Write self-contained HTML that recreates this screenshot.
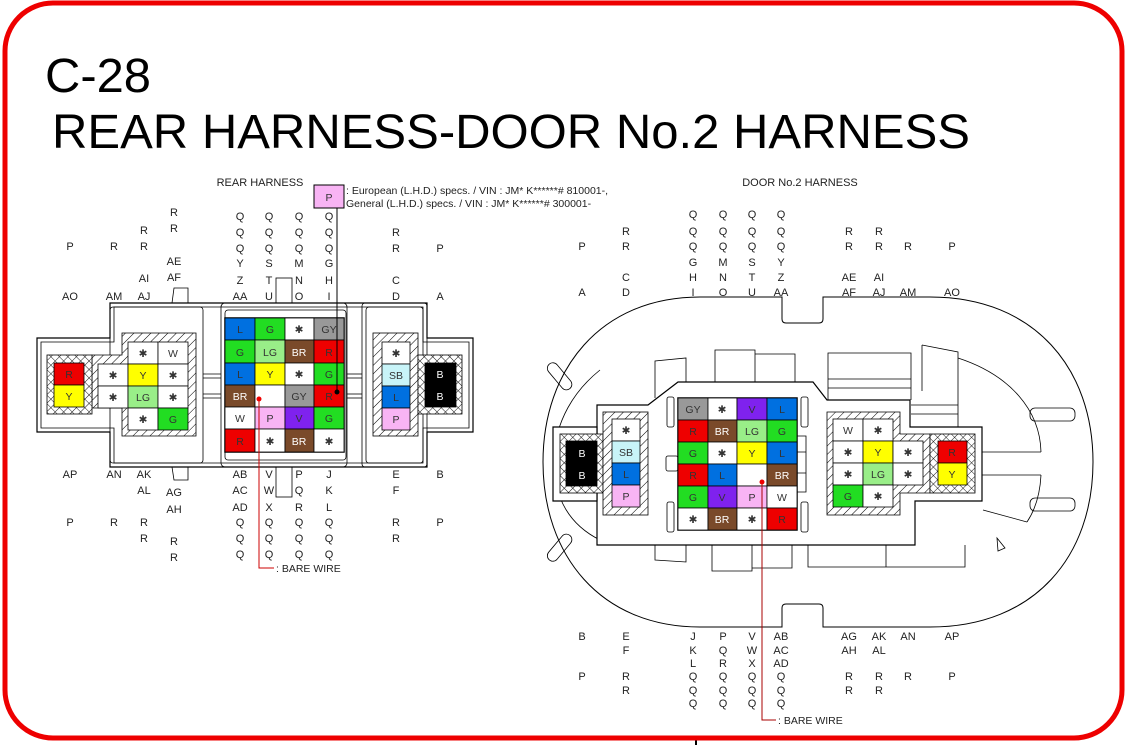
<!DOCTYPE html>
<html><head><meta charset="utf-8"><style>
html,body{margin:0;padding:0;background:#fff;width:1127px;height:745px;overflow:hidden}
svg{display:block}
text{font-family:"Liberation Sans",Arial,sans-serif}
.l{font-size:11px;fill:#222;text-anchor:middle}
.c{font-size:10.5px;fill:#333;text-anchor:middle}
.w{fill:#fff}
.o{fill:none;stroke:#000;stroke-width:1.2}
.t{fill:none;stroke:#000;stroke-width:0.8}
.cell{stroke:#000;stroke-width:0.8}
</style></head><body>
<svg width="1127" height="745" viewBox="0 0 1127 745" xmlns="http://www.w3.org/2000/svg">
<defs>
<pattern id="hd" width="6" height="6" patternUnits="userSpaceOnUse" patternTransform="rotate(45)"><rect width="6" height="6" fill="#fff"/><line x1="0" y1="0" x2="0" y2="6" stroke="#000" stroke-width="1"/></pattern>
<pattern id="hx" width="6" height="6" patternUnits="userSpaceOnUse" patternTransform="rotate(45)"><rect width="6" height="6" fill="#fff"/><line x1="0" y1="0" x2="0" y2="6" stroke="#000" stroke-width="0.9"/><line x1="0" y1="0" x2="6" y2="0" stroke="#000" stroke-width="0.9"/></pattern>
</defs>

<line x1="696" y1="740" x2="696" y2="745" stroke="#000" stroke-width="2"/>
<rect x="5" y="3" width="1117" height="735" rx="48" ry="48" fill="none" stroke="#ee0000" stroke-width="5"/>

<text x="45" y="92" font-size="48" textLength="106" lengthAdjust="spacingAndGlyphs">C-28</text>
<text x="52" y="148" font-size="48" textLength="918" lengthAdjust="spacingAndGlyphs">REAR HARNESS-DOOR No.2 HARNESS</text>

<text x="260" y="186" class="l" font-size="10.5">REAR HARNESS</text>
<text x="800" y="186" class="l" font-size="10.5">DOOR No.2 HARNESS</text>

<rect x="314" y="185" width="30" height="23" fill="#f8b4f4" stroke="#000"/>
<text x="329" y="201" class="c">P</text>
<text x="346" y="194" font-size="10.5" fill="#222">: European (L.H.D.) specs. / VIN : JM* K******# 810001-,</text>
<text x="346" y="207" font-size="10.5" fill="#222">General (L.H.D.) specs. / VIN : JM* K******# 300001-</text>

<!-- ================= LEFT CONNECTOR ================= -->
<g>
<path class="o" d="M110 303 H427 V338 H473 V432 H427 V467 H110 V432 H37 V338 H110 Z" fill="#fff"/>
<path class="t" d="M114 307 H423 V342 H469 V428 H423 V463 H114 V428 H41 V342 H114 Z"/>
<rect class="t" x="110" y="307" width="93" height="156" rx="3" fill="none"/>
<rect class="t" x="221" y="303" width="126" height="164" rx="4" fill="#fff"/>
<rect class="t" x="225" y="310" width="121" height="150" rx="3"/>
<rect class="t" x="362" y="303" width="65" height="164" rx="3" fill="#fff"/>
<rect class="t" x="366" y="307" width="57" height="156" rx="3"/>
<line class="t" x1="203" y1="374" x2="221" y2="374"/><line class="t" x1="203" y1="378" x2="221" y2="378"/>
<line class="t" x1="203" y1="394" x2="221" y2="394"/><line class="t" x1="203" y1="398" x2="221" y2="398"/>
<line class="t" x1="347" y1="374" x2="362" y2="374"/><line class="t" x1="347" y1="378" x2="362" y2="378"/>
<line class="t" x1="347" y1="394" x2="362" y2="394"/><line class="t" x1="347" y1="398" x2="362" y2="398"/>
<path class="t" d="M172 303 L174 288 H188 V303" fill="#fff"/>
<path class="t" d="M172 467 L174 480 H188 V467" fill="#fff"/>
<rect class="t" x="276" y="278" width="16" height="25" fill="#fff"/>
<rect class="t" x="276" y="467" width="16" height="30" fill="#fff"/>

<path d="M122 333 H196 V436 H122 V408 H92 V355 H122 Z" fill="url(#hd)" stroke="#000" stroke-width="0.8"/>
<rect x="47" y="355" width="45" height="59" fill="url(#hx)" stroke="#000" stroke-width="0.8"/>
<rect class="cell" x="54" y="363" width="30" height="22" fill="#ee0000"/><text x="69" y="378" class="c">R</text>
<rect class="cell" x="54" y="385" width="30" height="22" fill="#ffff00"/><text x="69" y="400" class="c">Y</text>

<rect class="cell" x="128" y="342" width="30" height="22" fill="#fff"/><text x="143" y="357" class="c">✱</text>
<rect class="cell" x="158" y="342" width="30" height="22" fill="#fff"/><text x="173" y="357" class="c">W</text>
<rect class="cell" x="98" y="364" width="30" height="22" fill="#fff"/><text x="113" y="379" class="c">✱</text>
<rect class="cell" x="128" y="364" width="30" height="22" fill="#ffff00"/><text x="143" y="379" class="c">Y</text>
<rect class="cell" x="158" y="364" width="30" height="22" fill="#fff"/><text x="173" y="379" class="c">✱</text>
<rect class="cell" x="98" y="386" width="30" height="22" fill="#fff"/><text x="113" y="401" class="c">✱</text>
<rect class="cell" x="128" y="386" width="30" height="22" fill="#99ee88"/><text x="143" y="401" class="c">LG</text>
<rect class="cell" x="158" y="386" width="30" height="22" fill="#fff"/><text x="173" y="401" class="c">✱</text>
<rect class="cell" x="128" y="408" width="30" height="22" fill="#fff"/><text x="143" y="423" class="c">✱</text>
<rect class="cell" x="158" y="408" width="30" height="22" fill="#22dd22"/><text x="173" y="423" class="c">G</text>

<rect x="225" y="318" width="119" height="134" fill="#fff" stroke="#000" stroke-width="1.5"/>
<rect class="cell" x="225" y="318" width="30" height="22" fill="#0070e0"/><text x="240" y="333" class="c">L</text>
<rect class="cell" x="255" y="318" width="30" height="22" fill="#22dd22"/><text x="270" y="333" class="c">G</text>
<rect class="cell" x="285" y="318" width="29" height="22" fill="#fff"/><text x="299" y="333" class="c">✱</text>
<rect class="cell" x="314" y="318" width="30" height="22" fill="#999"/><text x="329" y="333" class="c">GY</text>
<rect class="cell" x="225" y="340" width="30" height="23" fill="#22dd22"/><text x="240" y="356" class="c">G</text>
<rect class="cell" x="255" y="340" width="30" height="23" fill="#99ee88"/><text x="270" y="356" class="c">LG</text>
<rect class="cell" x="285" y="340" width="29" height="23" fill="#7a4a2a"/><text x="299" y="356" class="c w">BR</text>
<rect class="cell" x="314" y="340" width="30" height="23" fill="#ee0000"/><text x="329" y="356" class="c">R</text>
<rect class="cell" x="225" y="363" width="30" height="22" fill="#0070e0"/><text x="240" y="378" class="c">L</text>
<rect class="cell" x="255" y="363" width="30" height="22" fill="#ffff00"/><text x="270" y="378" class="c">Y</text>
<rect class="cell" x="285" y="363" width="29" height="22" fill="#fff"/><text x="299" y="378" class="c">✱</text>
<rect class="cell" x="314" y="363" width="30" height="22" fill="#22dd22"/><text x="329" y="378" class="c">G</text>
<rect class="cell" x="225" y="385" width="30" height="22" fill="#7a4a2a"/><text x="240" y="400" class="c w">BR</text>
<rect class="cell" x="255" y="385" width="30" height="22" fill="#fff"/>
<rect class="cell" x="285" y="385" width="29" height="22" fill="#999"/><text x="299" y="400" class="c">GY</text>
<rect class="cell" x="314" y="385" width="30" height="22" fill="#ee0000"/><text x="329" y="400" class="c">R</text>
<rect class="cell" x="225" y="407" width="30" height="22" fill="#fff"/><text x="240" y="422" class="c">W</text>
<rect class="cell" x="255" y="407" width="30" height="22" fill="#f8b4f4"/><text x="270" y="422" class="c">P</text>
<rect class="cell" x="285" y="407" width="29" height="22" fill="#7f22ee"/><text x="299" y="422" class="c">V</text>
<rect class="cell" x="314" y="407" width="30" height="22" fill="#22dd22"/><text x="329" y="422" class="c">G</text>
<rect class="cell" x="225" y="429" width="30" height="23" fill="#ee0000"/><text x="240" y="445" class="c">R</text>
<rect class="cell" x="255" y="429" width="30" height="23" fill="#fff"/><text x="270" y="445" class="c">✱</text>
<rect class="cell" x="285" y="429" width="29" height="23" fill="#7a4a2a"/><text x="299" y="445" class="c w">BR</text>
<rect class="cell" x="314" y="429" width="30" height="23" fill="#fff"/><text x="329" y="445" class="c">✱</text>

<rect x="373" y="333" width="45" height="103" fill="url(#hd)" stroke="#000" stroke-width="0.8"/>
<rect x="418" y="355" width="44" height="59" fill="url(#hx)" stroke="#000" stroke-width="0.8"/>
<rect class="cell" x="425" y="363" width="31" height="44" fill="#000"/>
<text x="440" y="378" class="c w">B</text><text x="440" y="400" class="c w">B</text>
<rect class="cell" x="382" y="342" width="28" height="22" fill="#fff"/><text x="396" y="357" class="c">✱</text>
<rect class="cell" x="382" y="364" width="28" height="22" fill="#c8f4f8"/><text x="396" y="379" class="c">SB</text>
<rect class="cell" x="382" y="386" width="28" height="22" fill="#0070e0"/><text x="396" y="401" class="c">L</text>
<rect class="cell" x="382" y="408" width="28" height="22" fill="#f8b4f4"/><text x="396" y="423" class="c">P</text>

<line x1="337" y1="208" x2="337" y2="392" stroke="#000" stroke-width="1"/>
<circle cx="337" cy="392" r="2.5" fill="#000"/>
<polyline points="259,399 259,568 274,568" fill="none" stroke="#c00" stroke-width="1"/>
<circle cx="259" cy="399" r="2.5" fill="#e00"/>
<text x="276" y="572" font-size="10.5" fill="#222">: BARE WIRE</text>
</g>

<g class="l">
<text x="174" y="216">R</text><text x="174" y="232">R</text>
<text x="144" y="234">R</text>
<text x="70" y="250">P</text><text x="114" y="250">R</text><text x="144" y="250">R</text>
<text x="174" y="265">AE</text><text x="174" y="281">AF</text><text x="144" y="282">AI</text>
<text x="70" y="300">AO</text><text x="114" y="300">AM</text><text x="144" y="300">AJ</text>
<text x="240" y="220">Q</text><text x="269" y="220">Q</text><text x="299" y="220">Q</text><text x="329" y="220">Q</text>
<text x="240" y="236">Q</text><text x="269" y="236">Q</text><text x="299" y="236">Q</text><text x="329" y="236">Q</text>
<text x="240" y="252">Q</text><text x="269" y="252">Q</text><text x="299" y="252">Q</text><text x="329" y="252">Q</text>
<text x="240" y="267">Y</text><text x="269" y="267">S</text><text x="299" y="267">M</text><text x="329" y="267">G</text>
<text x="240" y="284">Z</text><text x="269" y="284">T</text><text x="299" y="284">N</text><text x="329" y="284">H</text>
<text x="240" y="300">AA</text><text x="269" y="300">U</text><text x="299" y="300">O</text><text x="329" y="300">I</text>
<text x="396" y="236">R</text><text x="396" y="252">R</text><text x="440" y="252">P</text>
<text x="396" y="284">C</text><text x="396" y="300">D</text><text x="440" y="300">A</text>
<text x="70" y="478">AP</text><text x="114" y="478">AN</text><text x="144" y="478">AK</text>
<text x="144" y="494">AL</text><text x="174" y="496">AG</text><text x="174" y="513">AH</text>
<text x="70" y="526">P</text><text x="114" y="526">R</text><text x="144" y="526">R</text>
<text x="144" y="542">R</text><text x="174" y="545">R</text><text x="174" y="561">R</text>
<text x="240" y="478">AB</text><text x="269" y="478">V</text><text x="299" y="478">P</text><text x="329" y="478">J</text>
<text x="240" y="494">AC</text><text x="269" y="494">W</text><text x="299" y="494">Q</text><text x="329" y="494">K</text>
<text x="240" y="511">AD</text><text x="269" y="511">X</text><text x="299" y="511">R</text><text x="329" y="511">L</text>
<text x="240" y="526">Q</text><text x="269" y="526">Q</text><text x="299" y="526">Q</text><text x="329" y="526">Q</text>
<text x="240" y="542">Q</text><text x="269" y="542">Q</text><text x="299" y="542">Q</text><text x="329" y="542">Q</text>
<text x="240" y="558">Q</text><text x="269" y="558">Q</text><text x="299" y="558">Q</text><text x="329" y="558">Q</text>
<text x="396" y="478">E</text><text x="440" y="478">B</text><text x="396" y="494">F</text>
<text x="396" y="526">R</text><text x="440" y="526">P</text><text x="396" y="542">R</text>
</g>

<!-- ================= RIGHT CONNECTOR ================= -->
<g>
<path d="M782 297 H700 C600 297 543 370 543 462 C543 555 600 627 700 627 H782 V608 Q782 604 786 604 H819 Q823 604 823 608 V627 H930 C1036 627 1093 555 1093 462 C1093 370 1036 297 930 297 H823 V319 Q823 323 819 323 H786 Q782 323 782 319 Z" fill="#fff" stroke="#000" stroke-width="1"/>
<!-- inner arcs -->
<path class="t" d="M600 370 C575 390 555 420 553 462 C555 500 570 525 600 540"/>
<path class="t" d="M958 358 C1010 375 1040 410 1041 452"/>
<path class="t" d="M1041 475 C1040 495 1035 510 1027 522"/>
<!-- latch loops -->
<rect class="t" x="554" y="360" width="11" height="32" rx="5.5" transform="rotate(-40 560 376)"/>
<rect class="t" x="554" y="532" width="11" height="32" rx="5.5" transform="rotate(40 560 548)"/>
<rect class="t" x="1030" y="408" width="45" height="13" rx="5"/>
<rect class="t" x="1030" y="498" width="45" height="13" rx="5"/>
<line class="t" x1="982" y1="452" x2="1041" y2="452"/>
<line class="t" x1="982" y1="475" x2="1041" y2="475"/>
<line class="t" x1="983" y1="510" x2="1027" y2="522"/>
<!-- top tabs -->
<path class="t" d="M655 398 V361 L686 358 V382" fill="#fff"/>
<path class="t" d="M715 382 V350 H755 V382 M755 354 H795 V382"/>
<path class="t" d="M828 400 V353 H911 V400 M828 379 H911 M828 388 H911"/>
<path class="t" d="M922 345 V391 M922 345 L958 352 V427 M911 405 H958 M911 414 H958"/>
<!-- bottom tabs -->
<path class="t" d="M655 545 V560 L686 562 V545"/>
<path class="t" d="M712 545 V571 H752 V545 M752 545 V571 M752 568 H792 V545"/>
<path class="t" d="M808 545 V567 H965 V545 M886 545 V567"/>
<path d="M597 405 H648 L678 382 H813 L827 400 H910 V427 H982 V501 H915 V545 H597 Z" fill="#fff" stroke="#000" stroke-width="1.2"/>
<path d="M553 427 H597 V501 H553 Z" fill="#fff" stroke="#000" stroke-width="1.2"/>
<rect class="t" x="667" y="397" width="7" height="30" rx="2"/>
<rect class="t" x="667" y="502" width="7" height="30" rx="2"/>
<rect class="t" x="801" y="397" width="7" height="30" rx="2"/>
<rect class="t" x="801" y="502" width="7" height="30" rx="2"/>
<rect class="t" x="666" y="456" width="12" height="15" rx="2"/>
<path class="t" d="M797 436 H806 V492 H797 M797 452 H806 M797 473 H806"/>

<rect x="560" y="434" width="43" height="59" fill="url(#hx)" stroke="#000" stroke-width="0.8"/>
<rect class="cell" x="566" y="441" width="31" height="45" fill="#000"/>
<text x="582" y="457" class="c w">B</text><text x="582" y="479" class="c w">B</text>
<rect x="603" y="412" width="45" height="103" fill="url(#hd)" stroke="#000" stroke-width="0.8"/>
<rect class="cell" x="612" y="419" width="28" height="22" fill="#fff"/><text x="626" y="434" class="c">✱</text>
<rect class="cell" x="612" y="441" width="28" height="22" fill="#c8f4f8"/><text x="626" y="456" class="c">SB</text>
<rect class="cell" x="612" y="463" width="28" height="22" fill="#0070e0"/><text x="626" y="478" class="c">L</text>
<rect class="cell" x="612" y="485" width="28" height="22" fill="#f8b4f4"/><text x="626" y="500" class="c">P</text>

<rect x="678" y="398" width="119" height="132" fill="#fff" stroke="#000" stroke-width="1.5"/>
<rect class="cell" x="678" y="398" width="30" height="22" fill="#999"/><text x="693" y="413" class="c">GY</text>
<rect class="cell" x="708" y="398" width="29" height="22" fill="#fff"/><text x="722" y="413" class="c">✱</text>
<rect class="cell" x="737" y="398" width="30" height="22" fill="#7f22ee"/><text x="752" y="413" class="c">V</text>
<rect class="cell" x="767" y="398" width="30" height="22" fill="#0070e0"/><text x="782" y="413" class="c">L</text>
<rect class="cell" x="678" y="420" width="30" height="22" fill="#ee0000"/><text x="693" y="435" class="c">R</text>
<rect class="cell" x="708" y="420" width="29" height="22" fill="#7a4a2a"/><text x="722" y="435" class="c w">BR</text>
<rect class="cell" x="737" y="420" width="30" height="22" fill="#99ee88"/><text x="752" y="435" class="c">LG</text>
<rect class="cell" x="767" y="420" width="30" height="22" fill="#22dd22"/><text x="782" y="435" class="c">G</text>
<rect class="cell" x="678" y="442" width="30" height="22" fill="#22dd22"/><text x="693" y="457" class="c">G</text>
<rect class="cell" x="708" y="442" width="29" height="22" fill="#fff"/><text x="722" y="457" class="c">✱</text>
<rect class="cell" x="737" y="442" width="30" height="22" fill="#ffff00"/><text x="752" y="457" class="c">Y</text>
<rect class="cell" x="767" y="442" width="30" height="22" fill="#0070e0"/><text x="782" y="457" class="c">L</text>
<rect class="cell" x="678" y="464" width="30" height="22" fill="#ee0000"/><text x="693" y="479" class="c">R</text>
<rect class="cell" x="708" y="464" width="29" height="22" fill="#0070e0"/><text x="722" y="479" class="c">L</text>
<rect class="cell" x="737" y="464" width="30" height="22" fill="#fff"/>
<rect class="cell" x="767" y="464" width="30" height="22" fill="#7a4a2a"/><text x="782" y="479" class="c w">BR</text>
<rect class="cell" x="678" y="486" width="30" height="22" fill="#22dd22"/><text x="693" y="501" class="c">G</text>
<rect class="cell" x="708" y="486" width="29" height="22" fill="#7f22ee"/><text x="722" y="501" class="c">V</text>
<rect class="cell" x="737" y="486" width="30" height="22" fill="#f8b4f4"/><text x="752" y="501" class="c">P</text>
<rect class="cell" x="767" y="486" width="30" height="22" fill="#fff"/><text x="782" y="501" class="c">W</text>
<rect class="cell" x="678" y="508" width="30" height="22" fill="#fff"/><text x="693" y="523" class="c">✱</text>
<rect class="cell" x="708" y="508" width="29" height="22" fill="#7a4a2a"/><text x="722" y="523" class="c w">BR</text>
<rect class="cell" x="737" y="508" width="30" height="22" fill="#fff"/><text x="752" y="523" class="c">✱</text>
<rect class="cell" x="767" y="508" width="30" height="22" fill="#ee0000"/><text x="782" y="523" class="c">R</text>

<path d="M827 412 H900 V434 H930 V493 H900 V515 H827 Z" fill="url(#hd)" stroke="#000" stroke-width="0.8"/>
<rect x="930" y="434" width="45" height="59" fill="url(#hx)" stroke="#000" stroke-width="0.8"/>
<rect class="cell" x="938" y="441" width="29" height="22" fill="#ee0000"/><text x="952" y="456" class="c">R</text>
<rect class="cell" x="938" y="463" width="29" height="22" fill="#ffff00"/><text x="952" y="478" class="c">Y</text>
<rect class="cell" x="833" y="419" width="30" height="22" fill="#fff"/><text x="848" y="434" class="c">W</text>
<rect class="cell" x="863" y="419" width="30" height="22" fill="#fff"/><text x="878" y="434" class="c">✱</text>
<rect class="cell" x="833" y="441" width="30" height="22" fill="#fff"/><text x="848" y="456" class="c">✱</text>
<rect class="cell" x="863" y="441" width="30" height="22" fill="#ffff00"/><text x="878" y="456" class="c">Y</text>
<rect class="cell" x="893" y="441" width="30" height="22" fill="#fff"/><text x="908" y="456" class="c">✱</text>
<rect class="cell" x="833" y="463" width="30" height="22" fill="#fff"/><text x="848" y="478" class="c">✱</text>
<rect class="cell" x="863" y="463" width="30" height="22" fill="#99ee88"/><text x="878" y="478" class="c">LG</text>
<rect class="cell" x="893" y="463" width="30" height="22" fill="#fff"/><text x="908" y="478" class="c">✱</text>
<rect class="cell" x="833" y="485" width="30" height="22" fill="#22dd22"/><text x="848" y="500" class="c">G</text>
<rect class="cell" x="863" y="485" width="30" height="22" fill="#fff"/><text x="878" y="500" class="c">✱</text>

<path d="M997 538 L1005 548 L998 551 Z" fill="#fff" stroke="#000" stroke-width="0.8"/>

<polyline points="762,482 762,720 776,720" fill="none" stroke="#a00" stroke-width="1"/>
<circle cx="762" cy="482" r="2.5" fill="#e00"/>
<text x="778" y="724" font-size="10.5" fill="#222">: BARE WIRE</text>
</g>

<g class="l">
<text x="693" y="218">Q</text><text x="723" y="218">Q</text><text x="752" y="218">Q</text><text x="781" y="218">Q</text>
<text x="626" y="235">R</text>
<text x="693" y="235">Q</text><text x="723" y="235">Q</text><text x="752" y="235">Q</text><text x="781" y="235">Q</text>
<text x="849" y="235">R</text><text x="879" y="235">R</text>
<text x="582" y="250">P</text><text x="626" y="250">R</text>
<text x="693" y="250">Q</text><text x="723" y="250">Q</text><text x="752" y="250">Q</text><text x="781" y="250">Q</text>
<text x="849" y="250">R</text><text x="879" y="250">R</text><text x="908" y="250">R</text><text x="952" y="250">P</text>
<text x="693" y="266">G</text><text x="723" y="266">M</text><text x="752" y="266">S</text><text x="781" y="266">Y</text>
<text x="626" y="281">C</text>
<text x="693" y="281">H</text><text x="723" y="281">N</text><text x="752" y="281">T</text><text x="781" y="281">Z</text>
<text x="849" y="281">AE</text><text x="879" y="281">AI</text>
<text x="582" y="296">A</text><text x="626" y="296">D</text>
<text x="693" y="296">I</text><text x="723" y="296">O</text><text x="752" y="296">U</text><text x="781" y="296">AA</text>
<text x="849" y="296">AF</text><text x="879" y="296">AJ</text><text x="908" y="296">AM</text><text x="952" y="296">AO</text>

<text x="582" y="640">B</text><text x="626" y="640">E</text>
<text x="693" y="640">J</text><text x="723" y="640">P</text><text x="752" y="640">V</text><text x="781" y="640">AB</text>
<text x="849" y="640">AG</text><text x="879" y="640">AK</text><text x="908" y="640">AN</text><text x="952" y="640">AP</text>
<text x="626" y="654">F</text>
<text x="693" y="654">K</text><text x="723" y="654">Q</text><text x="752" y="654">W</text><text x="781" y="654">AC</text>
<text x="849" y="654">AH</text><text x="879" y="654">AL</text>
<text x="693" y="667">L</text><text x="723" y="667">R</text><text x="752" y="667">X</text><text x="781" y="667">AD</text>
<text x="582" y="680">P</text><text x="626" y="680">R</text>
<text x="693" y="680">Q</text><text x="723" y="680">Q</text><text x="752" y="680">Q</text><text x="781" y="680">Q</text>
<text x="849" y="680">R</text><text x="879" y="680">R</text><text x="908" y="680">R</text><text x="952" y="680">P</text>
<text x="626" y="694">R</text>
<text x="693" y="694">Q</text><text x="723" y="694">Q</text><text x="752" y="694">Q</text><text x="781" y="694">Q</text>
<text x="849" y="694">R</text><text x="879" y="694">R</text>
<text x="693" y="707">Q</text><text x="723" y="707">Q</text><text x="752" y="707">Q</text><text x="781" y="707">Q</text>
</g>
</svg>
</body></html>
